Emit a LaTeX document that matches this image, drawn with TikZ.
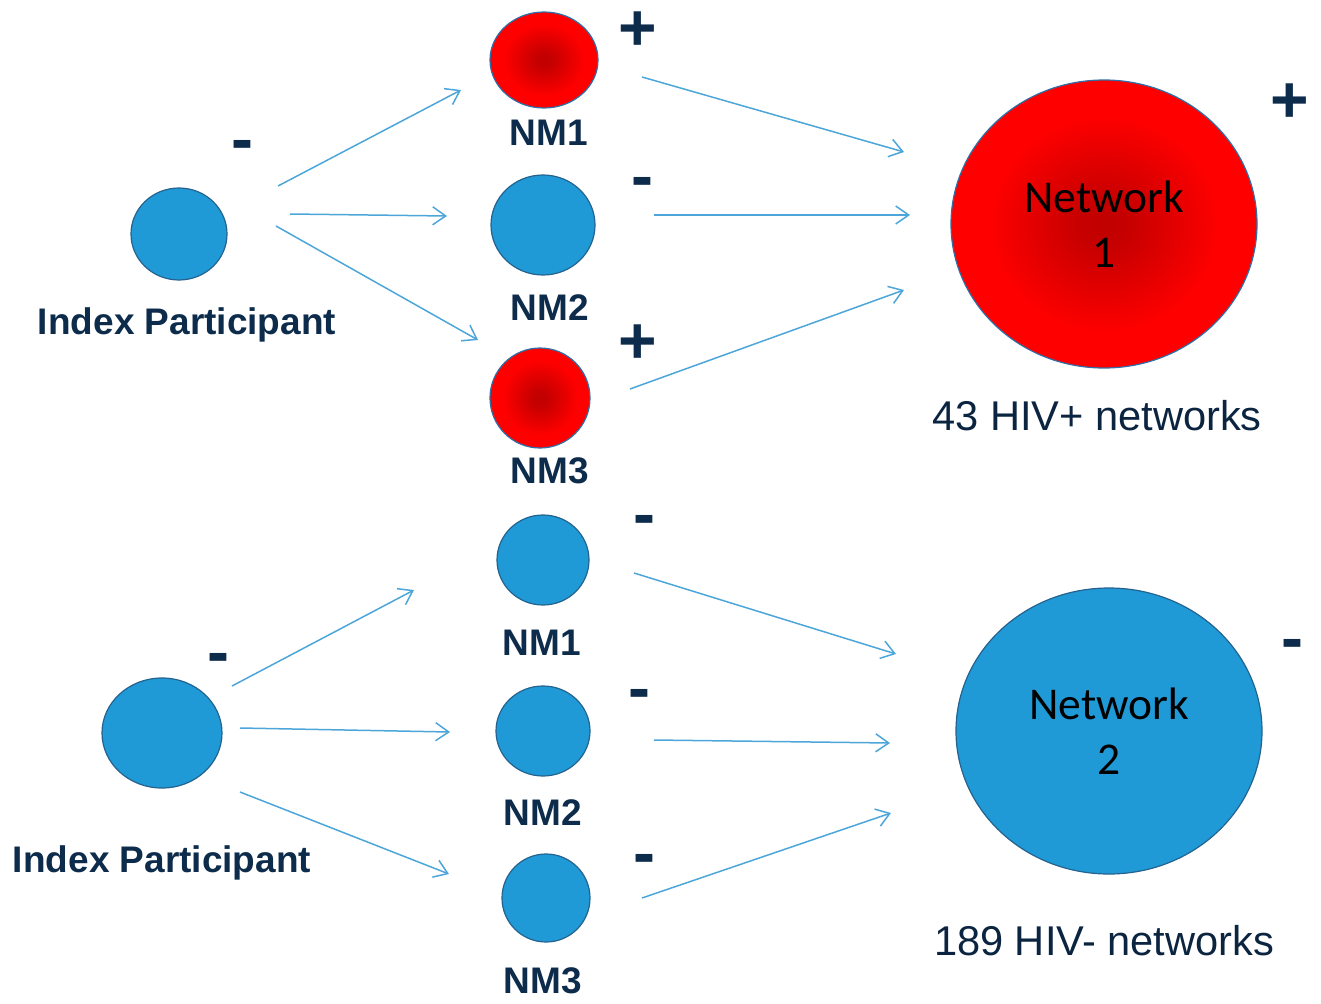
\documentclass[tikz,border=0pt]{standalone}
\usepackage{fontspec}
\setmainfont{Liberation Sans}
\newfontfamily\calib{Carlito}
\usetikzlibrary{shapes.geometric,arrows.meta}
\definecolor{nodeblue}{HTML}{1F9AD6}
\definecolor{blueedge}{HTML}{24628F}
\definecolor{rededge}{HTML}{2E6FA8}
\definecolor{navy}{HTML}{0D2B4B}
\definecolor{arrowblue}{HTML}{4DA6DA}
\definecolor{darkred}{HTML}{C00000}
\pgfdeclareradialshading{redglow}{\pgfpoint{0bp}{0bp}}{color(0bp)=(darkred); color(4bp)=(darkred!90!red); color(19bp)=(red); color(50bp)=(red)}
\tikzset{
  bluenode/.style={ellipse, inner sep=0pt, fill=nodeblue, draw=blueedge, line width=1.2pt},
  rednode/.style={ellipse, inner sep=0pt, shading=redglow, draw=rededge, line width=1.2pt},
  lbl/.style={anchor=base, text=navy, font=\bfseries\fontsize{37}{42}\selectfont, inner sep=0pt},
  sign/.style={anchor=base, text=navy, font=\bfseries\fontsize{66}{72}\selectfont, inner sep=0pt},
  nettext/.style={anchor=base, text=black, font=\calib\fontsize{45.5}{50}\selectfont, inner sep=0pt},
  cnt/.style={anchor=base, text=navy!85!black, font=\fontsize{41.6}{46}\selectfont, inner sep=0pt},
  link/.style={draw=arrowblue, line width=1.5pt, -{Straight Barb[length=13pt,width=18pt,line width=1.5pt]}}
}
\begin{document}
\begin{tikzpicture}[x=1pt,y=-1pt]
\useasboundingbox (0,0) rectangle (1321,1003);
% ---------- top group ----------
\node[bluenode, minimum width=96pt, minimum height=92pt] (ipA) at (179,234) {};
\node[lbl] (ipAl) at (187,334) {Index Participant};
\node[sign] (ipAs) at (242,162) {-};
\node[rednode, minimum width=108pt, minimum height=96pt] (a1) at (544,60) {};
\node[lbl] (a1l) at (549,146) {NM1};
\node[sign] (a1s) at (638,51) {+};
\node[bluenode, minimum width=104pt, minimum height=100pt] (a2) at (543,225) {};
\node[lbl] (a2l) at (550,320) {NM2};
\node[sign] (a2s) at (642,198) {-};
\node[rednode, minimum width=100pt, minimum height=100pt] (a3) at (540,398) {};
\node[lbl] (a3l) at (550,483) {NM3};
\node[sign] (a3s) at (638,363) {+};
\node[rednode, minimum width=306pt, minimum height=288pt] (netA) at (1104,224) {};
\node[nettext] (netAt) at (1104,212) {Network};
\node[nettext] (netAn) at (1104,267) {1};
\node[sign] (netAs) at (1290,123) {+};
\node[cnt] (netAc) at (1097,430) {43 HIV+ networks};
% arrow end points (top)
\coordinate (pA1s) at (278,186); \coordinate (pA1e) at (461,90);
\coordinate (pA2s) at (290,214); \coordinate (pA2e) at (447,216);
\coordinate (pA3s) at (276,226); \coordinate (pA3e) at (478,340);
\coordinate (qA1s) at (642,77);  \coordinate (qA1e) at (904,152);
\coordinate (qA2s) at (654,215); \coordinate (qA2e) at (910,215);
\coordinate (qA3s) at (630,389); \coordinate (qA3e) at (904,290);
\draw[link] (pA1s) -- (pA1e);
\draw[link] (pA2s) -- (pA2e);
\draw[link] (pA3s) -- (pA3e);
\draw[link] (qA1s) -- (qA1e);
\draw[link] (qA2s) -- (qA2e);
\draw[link] (qA3s) -- (qA3e);
% ---------- bottom group ----------
\node[bluenode, minimum width=120pt, minimum height=110pt] (ipB) at (162,733) {};
\node[lbl] (ipBl) at (162,872) {Index Participant};
\node[sign] (ipBs) at (218,674) {-};
\node[bluenode, minimum width=92pt, minimum height=90pt] (b1) at (543,560) {};
\node[lbl] (b1l) at (542,655) {NM1};
\node[sign] (b1s) at (644,536) {-};
\node[bluenode, minimum width=94pt, minimum height=90pt] (b2) at (543,731) {};
\node[lbl] (b2l) at (543,825) {NM2};
\node[sign] (b2s) at (639,710) {-};
\node[bluenode, minimum width=88pt, minimum height=88pt] (b3) at (546,898) {};
\node[lbl] (b3l) at (543,993) {NM3};
\node[sign] (b3s) at (644,875) {-};
\node[bluenode, minimum width=306pt, minimum height=286pt] (netB) at (1109,731) {};
\node[nettext] (netBt) at (1109,719) {Network};
\node[nettext] (netBn) at (1109,774) {2};
\node[sign] (netBs) at (1292,660) {-};
\node[cnt] (netBc) at (1104,955) {189 HIV- networks};
% arrow end points (bottom)
\coordinate (pB1s) at (232,686); \coordinate (pB1e) at (414,590);
\coordinate (pB2s) at (240,728); \coordinate (pB2e) at (450,732);
\coordinate (pB3s) at (240,792); \coordinate (pB3e) at (449,874);
\coordinate (qB1s) at (634,573); \coordinate (qB1e) at (896,654);
\coordinate (qB2s) at (654,740); \coordinate (qB2e) at (890,743);
\coordinate (qB3s) at (642,898); \coordinate (qB3e) at (891,813);
\draw[link] (pB1s) -- (pB1e);
\draw[link] (pB2s) -- (pB2e);
\draw[link] (pB3s) -- (pB3e);
\draw[link] (qB1s) -- (qB1e);
\draw[link] (qB2s) -- (qB2e);
\draw[link] (qB3s) -- (qB3e);
\end{tikzpicture}
\end{document}
